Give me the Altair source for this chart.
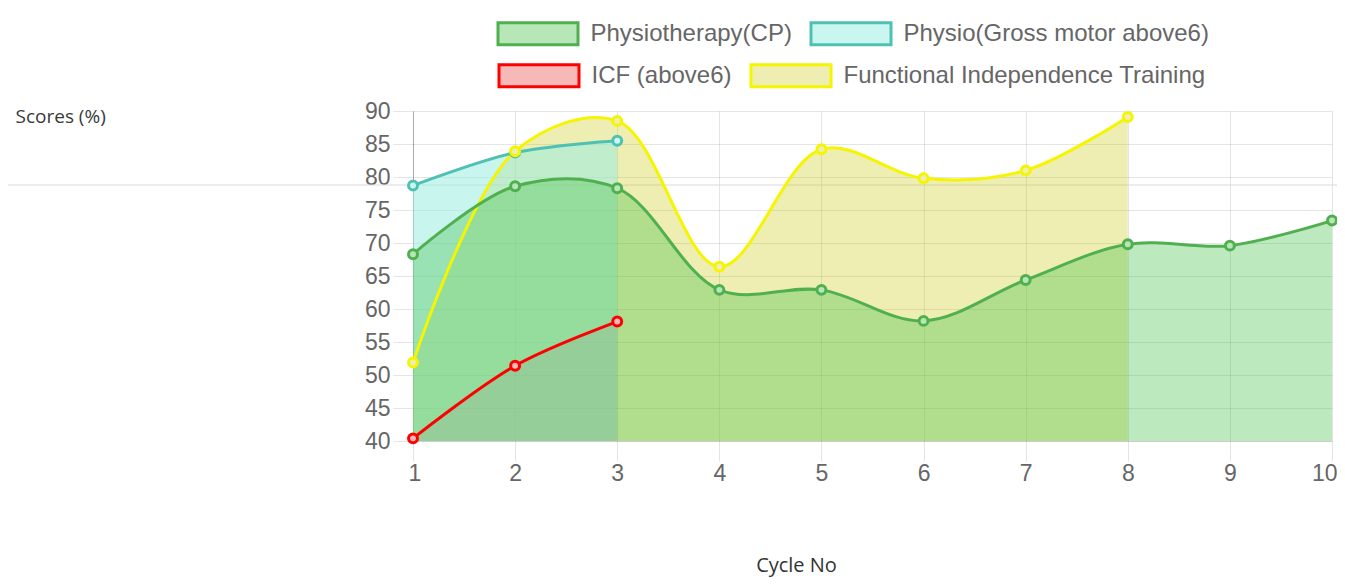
import altair as alt
import pandas as pd

cycles = [1, 2, 3, 4, 5, 6, 7, 8, 9, 10]
series_names = [
    "Physiotherapy(CP)",
    "Physio(Gross motor above6)",
    "ICF (above6)",
    "Functional Independence Training",
]
physio_cp = [68.3, 78.6, 78.3, 62.9, 62.9, 58.2, 64.4, 69.8, 69.6, 73.4]
physio_gross = [78.7, 83.7, 85.5]
icf = [40.4, 51.4, 58.1]
fit = [51.9, 83.9, 88.5, 66.4, 84.2, 79.8, 81.0, 89.1]
y_ticks = [40, 45, 50, 55, 60, 65, 70, 75, 80, 85, 90]

rows = []
for name, vals in zip(series_names, [physio_cp, physio_gross, icf, fit]):
    for c, v in zip(cycles, vals):
        rows.append({"series": name, "cycle": c, "score": v})
df = pd.DataFrame(rows)

line_colors = ["#50b050", "#4fc1b4", "#ff0000", "#f5f500"]
line_color_of = dict(zip(series_names, line_colors))
point_fills = ["#b7e6b7", "#c9f6ee", "#f7b8b8", "#eeeeb2"]
area_fills = {
    "Physiotherapy(CP)": "rgba(70,194,75,0.36)",
    "Physio(Gross motor above6)": "rgba(154,237,224,0.55)",
    "ICF (above6)": "rgba(255,0,120,0.22)",
    "Functional Independence Training": "rgba(200,200,0,0.3)",
}
CURVE = "catmull-rom"

x_enc = alt.X(
    "cycle:Q",
    scale=alt.Scale(domain=[1, 10], nice=False, zero=False),
    axis=alt.Axis(
        values=cycles, format="d", labelAngle=0, labelFlush=True, labelFlushOffset=5,
        labelOverlap=False,
        grid=True, gridColor="rgba(0,0,0,0.1)", tickColor="rgba(0,0,0,0.1)", tickSize=20,
        domainColor="rgba(0,0,0,0.1)", labelFont="Liberation Sans", labelFontSize=23,
        labelColor="#666", labelPadding=1,
        title="Cycle No", titleFont="Open Sans", titleFontSize=20, titleFontWeight="normal",
        titleColor="#333", titleX=383, titleY=124, titleAlign="center", titleBaseline="middle",
    ),
)
y_enc = alt.Y(
    "score:Q",
    scale=alt.Scale(domain=[40, 90], nice=False, zero=False),
    axis=alt.Axis(
        values=y_ticks, labelFlush=False, labelOverlap=False,
        grid=True, gridColor="rgba(0,0,0,0.1)", tickColor="rgba(0,0,0,0.1)", tickSize=20,
        domainColor="rgba(0,0,0,0.25)", labelFont="Liberation Sans", labelFontSize=23,
        labelColor="#666", labelPadding=3,
        title="Scores (%)", titleFont="Open Sans", titleFontSize=19, titleFontWeight="normal",
        titleColor="#3a3a3a", titleAngle=0, titleX=-398, titleY=5, titleAlign="left",
        titleBaseline="middle",
    ),
)

base = alt.Chart(df)

page_line = alt.Chart(pd.DataFrame({"k": [0]})).mark_rule(
    color="#dadada", strokeWidth=1
).encode(x=alt.value(-405), x2=alt.value(930), y=alt.value(74))

layers = [page_line]
# fills first (reverse dataset order as Chart.js does)
for name in reversed(series_names):
    layers.append(
        base.transform_filter(alt.datum.series == name)
        .mark_area(interpolate=CURVE, color=area_fills[name])
        .encode(x=x_enc, y=y_enc, y2=alt.datum(40))
    )

for name in reversed(series_names):
    layers.append(
        base.transform_filter(alt.datum.series == name)
        .mark_line(interpolate=CURVE, strokeWidth=3, color=line_color_of[name])
        .encode(x=x_enc, y=y_enc)
    )


def legend_row(lx, ly):
    # legend box: 80 x 22 px drawn from a 22px symbol scaled path
    return alt.Legend(
        orient="none", legendX=lx, legendY=ly, direction="horizontal",
        symbolType="M-3.6364,-1H3.6364V1H-3.6364Z", symbolSize=484,
        symbolOffset=27.5, symbolStrokeWidth=3, labelFont="Liberation Sans", labelFontSize=24,
        labelColor="#666", labelOffset=40, columnPadding=12, title=None, labelLimit=600,
    )


# one legend row per pair of series, as the Chart.js legend wraps
for i, (lx, ly) in enumerate([(85, -90), (86, -48)]):
    names = series_names[2 * i: 2 * i + 2]
    sc = alt.Scale(domain=names, range=line_colors[2 * i: 2 * i + 2])
    fc = alt.Scale(domain=names, range=point_fills[2 * i: 2 * i + 2])
    lg = legend_row(lx, ly)
    layers.append(
        base.transform_filter(alt.FieldOneOfPredicate(field="series", oneOf=names))
        .mark_point(filled=True, size=80, strokeWidth=3, opacity=1)
        .encode(
            x=x_enc,
            y=y_enc,
            fill=alt.Fill("series:N", scale=fc, legend=lg),
            stroke=alt.Stroke("series:N", scale=sc, legend=lg),
        )
    )

chart = alt.layer(*layers).resolve_scale(
    fill="independent", stroke="independent"
).properties(
    width=919, height=330,
    padding={"left": 405, "top": 103, "right": 5, "bottom": 137},
    autosize="none",
).configure_view(stroke=None)

chart.save("out.html", embed_options={"renderer": "svg", "actions": False})
